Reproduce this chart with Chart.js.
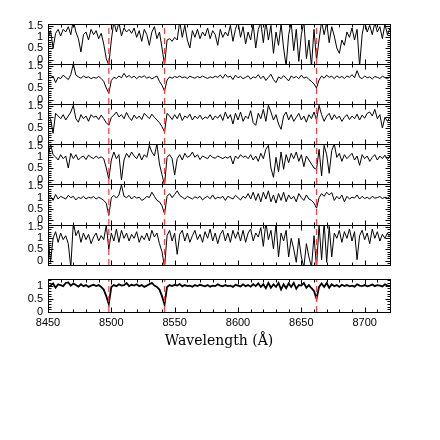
<!DOCTYPE html>
<html>
<head>
<meta charset="utf-8">
<script src="https://cdn.jsdelivr.net/npm/chart.js@4.4.1/dist/chart.umd.min.js"></script>
<style>
  html, body { margin: 0; padding: 0; background: #fff; }
  #wrap { position: relative; width: 440px; height: 440px; overflow: hidden; }
  #wrap canvas { position: absolute; left: 0; }
</style>
</head>
<body>
<div id="wrap"></div>
<script>
// wavelength grid (Angstrom)
const WAVE = [
  8450,8452,8454,8456,8458,8460,8462,8464,8466,8468,
  8470,8472,8474,8476,8478,8480,8482,8484,8486,8488,
  8490,8492,8494,8496,8498,8500,8502,8504,8506,8508,
  8510,8512,8514,8516,8518,8520,8522,8524,8526,8528,
  8530,8532,8534,8536,8538,8540,8542,8544,8546,8548,
  8550,8552,8554,8556,8558,8560,8562,8564,8566,8568,
  8570,8572,8574,8576,8578,8580,8582,8584,8586,8588,
  8590,8592,8594,8596,8598,8600,8602,8604,8606,8608,
  8610,8612,8614,8616,8618,8620,8622,8624,8626,8628,
  8630,8632,8634,8636,8638,8640,8642,8644,8646,8648,
  8650,8652,8654,8656,8658,8660,8662,8664,8666,8668,
  8670,8672,8674,8676,8678,8680,8682,8684,8686,8688,
  8690,8692,8694,8696,8698,8700,8702,8704,8706,8708,
  8710,8712,8714,8716,8718,8720
];

// normalised flux, one spectrum per panel (top to bottom)
const SPEC_1 = [
  1.0,1.3,0.52,1.18,1.36,1.06,1.36,1.24,1.48,1.12,
  1.78,1.24,0.94,0.34,1.12,1.24,0.88,1.36,1.12,1.3,
  0.94,1.18,0.7,0.04,-0.25,0.88,1.72,1.24,1.66,1.06,
  1.42,1.24,1.36,1.18,1.42,1.0,1.3,0.82,1.36,1.12,
  0.64,1.24,1.48,0.94,1.24,0.52,-0.25,0.88,0.94,0.82,
  1.0,0.88,1.72,1.0,1.54,0.88,0.52,1.3,1.0,1.36,
  0.94,1.24,1.06,1.42,0.94,1.3,1.12,0.64,1.36,1.0,
  1.24,1.06,1.54,0.82,1.36,1.72,1.0,1.48,0.7,1.24,
  0.88,1.6,0.52,1.36,1.66,0.76,1.72,0.88,1.54,0.28,
  1.24,0.64,1.6,0.52,-0.3,1.12,1.66,0.4,1.36,-0.08,
  1.12,1.72,0.04,0.88,-0.3,1.36,-0.02,0.88,1.72,1.12,
  1.66,0.76,1.48,1.06,0.52,0.28,0.88,0.64,1.24,1.0,
  1.42,0.88,1.36,-0.3,1.12,1.72,1.24,1.54,1.12,1.66,
  1.24,1.48,0.94,1.6,1.12,1.42
];
const SPEC_2 = [
  1.0,0.98,1.06,0.76,1.0,0.94,1.1,1.0,0.9,1.12,
  1.6,1.1,1.02,0.96,1.06,0.99,1.02,0.94,1.0,0.96,
  1.04,0.95,0.82,0.52,0.28,0.86,1.0,0.95,1.06,0.98,
  1.18,1.0,1.08,0.98,1.05,0.94,1.04,1.0,1.07,0.96,
  1.02,0.93,1.0,1.06,0.82,0.64,0.38,0.88,1.02,0.96,
  1.04,0.99,1.06,0.98,1.02,0.95,1.05,1.0,0.96,1.04,
  0.98,1.06,1.0,0.95,1.02,0.98,1.05,1.0,1.1,0.96,
  1.14,1.0,1.06,0.9,1.1,0.98,1.04,0.94,1.0,1.07,
  0.92,1.02,0.98,1.12,0.94,1.06,0.86,1.0,1.14,0.9,
  0.76,1.02,0.94,1.08,0.96,0.84,1.06,0.98,1.04,0.94,
  1.1,0.96,1.02,0.9,0.82,0.7,0.52,0.88,1.06,0.96,
  1.1,1.0,1.05,0.94,1.07,0.98,1.04,0.95,1.06,1.0,
  1.12,0.98,1.3,1.0,0.94,1.06,0.98,1.02,0.93,1.04,
  1.0,0.95,1.05,0.99,0.94,1.02
];
const SPEC_3 = [
  1.0,0.94,0.28,1.18,1.06,0.94,1.12,0.88,1.06,1.24,
  1.54,0.94,0.78,1.12,0.94,1.06,0.82,1.12,1.0,1.06,
  0.9,1.1,0.94,0.76,0.64,1.0,1.1,1.24,1.02,1.12,
  0.94,1.22,1.0,0.86,1.1,0.94,1.06,0.9,1.18,1.06,
  0.94,1.14,1.0,0.88,0.76,0.58,0.34,1.18,1.06,0.9,
  1.12,0.94,1.18,0.86,1.06,0.98,1.14,0.88,1.06,0.94,
  1.1,0.9,1.02,0.95,1.12,0.88,1.06,0.96,1.12,0.86,
  1.24,0.94,1.12,0.7,1.18,0.88,1.24,0.82,1.06,0.94,
  1.3,0.76,0.64,1.18,0.94,1.36,0.82,1.54,1.24,0.88,
  1.12,0.7,0.46,1.06,1.24,0.88,1.12,0.82,1.0,1.18,
  0.88,1.06,0.78,1.12,0.94,1.24,0.88,1.54,1.12,0.82,
  1.06,1.18,0.88,1.12,0.94,1.06,0.82,1.0,1.12,0.9,
  1.06,0.94,1.14,0.88,1.1,0.96,1.18,1.24,1.06,1.36,
  0.94,1.12,0.52,1.0,0.82,1.02
];
const SPEC_4 = [
  0.94,1.6,1.12,1.02,0.88,1.12,0.94,1.06,0.52,1.18,
  0.94,1.12,0.88,1.0,1.06,0.9,1.1,1.0,0.94,1.06,
  0.96,1.02,0.94,0.52,0.02,0.88,1.24,0.94,1.12,-0.02,
  0.88,1.18,1.0,1.24,1.06,0.94,1.18,0.88,1.12,1.0,
  1.54,1.24,1.06,1.6,0.7,0.22,-0.25,1.0,1.12,0.94,
  0.2,0.94,1.12,0.88,1.18,1.0,1.06,1.24,1.0,1.12,
  0.9,1.06,1.0,0.94,1.1,1.0,0.96,1.06,1.0,0.94,
  1.02,0.96,1.06,0.7,1.06,0.94,1.12,1.0,1.06,0.94,
  1.12,0.88,1.06,0.82,1.18,0.94,1.36,1.54,0.52,0.1,
  1.0,0.34,1.24,0.46,1.12,0.76,1.18,0.94,1.24,0.82,
  1.12,0.58,1.06,0.88,0.7,0.52,0.46,1.36,0.16,1.54,
  1.12,0.28,1.3,1.6,1.0,1.18,0.82,1.12,0.94,1.06,
  1.18,0.88,1.06,0.64,1.12,0.94,1.06,0.82,1.0,1.12,
  0.88,1.06,0.94,1.1,0.9,1.06
];
const SPEC_5 = [
  0.98,1.06,0.88,1.14,0.94,1.06,1.0,0.94,1.1,1.0,
  1.06,0.9,1.02,0.96,1.06,0.94,1.02,0.98,1.05,0.94,
  1.02,0.96,0.88,0.76,0.22,1.0,1.1,0.98,1.12,1.56,
  1.06,1.0,1.1,0.94,1.06,0.98,1.02,0.88,0.94,1.06,
  1.0,1.24,1.06,0.88,0.82,0.64,0.29,1.06,1.18,1.0,
  1.14,1.3,1.1,1.02,0.94,1.06,1.0,0.94,1.04,0.98,
  1.06,0.9,1.0,1.06,0.95,1.12,0.94,1.02,0.98,1.06,
  0.88,1.06,1.0,0.94,1.1,1.0,0.9,1.06,0.98,1.18,
  0.94,1.24,0.88,1.18,0.82,1.24,0.94,1.3,0.82,1.12,
  0.76,1.18,0.88,1.24,0.82,1.12,0.94,1.06,0.82,1.18,
  1.0,0.88,1.12,0.94,0.88,0.76,0.54,1.0,1.18,1.06,
  1.24,1.12,1.22,0.88,1.06,0.94,1.12,0.82,1.06,0.94,
  1.02,0.98,1.12,0.94,1.06,0.96,1.02,0.94,1.06,0.98,
  1.0,1.05,0.96,1.02,0.98,1.06
];
const SPEC_6 = [
  1.06,-0.08,1.0,1.3,0.82,1.24,0.94,1.12,0.76,-0.3,
  1.72,1.12,1.36,0.82,1.24,0.94,1.18,0.76,1.06,1.24,
  0.88,1.12,0.94,1.6,0.52,1.24,0.88,1.42,0.82,1.36,
  1.0,1.24,0.88,1.18,1.0,1.3,0.82,1.12,0.94,1.24,
  0.88,1.36,1.06,1.24,0.76,0.4,-0.3,1.12,1.36,0.88,
  1.24,0.28,1.18,1.36,0.88,1.24,0.82,1.12,1.36,0.94,
  1.18,0.82,1.3,1.0,1.42,0.88,1.24,0.76,1.18,1.36,
  0.88,1.24,0.82,1.36,1.0,1.3,0.88,1.36,0.82,1.24,
  1.42,0.88,1.24,1.06,1.48,0.64,1.72,0.94,1.36,0.52,
  1.66,0.16,1.24,0.88,1.36,0.16,1.0,0.52,-0.08,1.0,
  0.16,-0.3,0.76,0.16,-0.3,1.12,-0.3,1.6,0.04,1.72,
  -0.08,1.54,0.16,1.24,1.0,1.36,0.82,1.3,1.0,1.42,
  0.88,1.3,0.04,1.12,1.36,0.94,1.24,0.76,1.42,1.0,
  1.3,0.88,1.18,1.0,1.24,1.06
];
const SPEC_7 = [
  0.95,1.0,1.08,0.92,1.05,1.02,0.98,1.1,1.12,1.0,
  1.08,1.02,0.96,1.05,0.98,1.02,0.95,1.0,1.03,0.98,
  1.02,0.95,0.85,0.6,0.3,0.95,1.02,0.98,1.05,1.0,
  1.02,1.1,0.98,1.03,1.0,1.05,0.98,1.02,0.95,1.0,
  1.05,1.1,1.0,0.95,0.85,0.6,0.28,0.95,1.02,0.98,
  1.03,1.0,1.06,0.97,1.02,0.98,1.0,0.96,1.02,0.98,
  1.03,1.0,0.97,1.02,0.96,1.0,0.98,1.05,1.0,0.97,
  1.02,0.98,1.0,0.95,1.03,1.0,0.97,1.05,0.98,1.02,
  0.96,1.05,0.98,1.08,0.95,1.05,0.9,1.1,0.92,1.05,
  0.95,1.1,0.85,1.05,0.9,1.08,0.95,1.1,0.88,1.02,
  1.0,1.1,0.92,1.02,0.9,0.8,0.5,0.95,1.08,0.95,
  1.1,0.92,1.05,0.98,1.02,0.95,1.03,0.98,1.02,0.97,
  1.0,0.96,1.05,1.0,0.98,1.02,0.97,1.0,1.04,0.98,
  1.02,1.0,0.97,1.05,1.0,0.98
];

// Ca II triplet positions, marked in every panel
const CAT_LINES = [8498, 8542, 8662];
const X_TICKS = [8450, 8500, 8550, 8600, 8650, 8700];
const Y_TICKS = [0, 0.5, 1, 1.5];
const Y_TICKS_LAST = [0, 0.5, 1];
const X_TITLE = 'Wavelength (Å)';

// panel geometry in page pixels
const PANELS = [
  { spec: SPEC_1, top: 24,  h: 40, ymin: -0.2, ymax: 1.6,  yticks: Y_TICKS },
  { spec: SPEC_2, top: 64,  h: 40, ymin: -0.2, ymax: 1.6,  yticks: Y_TICKS },
  { spec: SPEC_3, top: 104, h: 40, ymin: -0.2, ymax: 1.6,  yticks: Y_TICKS },
  { spec: SPEC_4, top: 144, h: 40, ymin: -0.2, ymax: 1.6,  yticks: Y_TICKS },
  { spec: SPEC_5, top: 184, h: 41, ymin: -0.2, ymax: 1.6,  yticks: Y_TICKS },
  { spec: SPEC_6, top: 225, h: 40, ymin: -0.2, ymax: 1.6,  yticks: Y_TICKS },
  { spec: SPEC_7, top: 279, h: 33, ymin: 0,    ymax: 1.25, yticks: Y_TICKS_LAST, last: true, lw: 1.8 },
];

const PAD = 8, AXIS_H = 46, LEFT = 48, RIGHT_PAD = 50;
const TICK_FONT = { family: "'Liberation Sans', Arial, sans-serif", size: 11 };

// box + inward ticks on all four sides (pgplot style)
const framePlugin = {
  id: 'frame',
  afterDatasetsDraw(chart) {
    const { ctx, chartArea: a, scales: { x, y } } = chart;
    const L = Math.round(a.left) + 0.5, R = Math.round(a.right) + 0.5;
    const T = Math.round(a.top) + 0.5, B = Math.round(a.bottom) + 0.5;
    ctx.save();
    ctx.strokeStyle = '#000';
    ctx.lineWidth = 1;
    ctx.beginPath();
    for (let w = 8450; w <= 8720; w += 10) {
      const px = Math.round(x.getPixelForValue(w)) + 0.5;
      const len = (w - 8450) % 50 === 0 ? 5 : 3;
      ctx.moveTo(px, T); ctx.lineTo(px, T + len);
      ctx.moveTo(px, B); ctx.lineTo(px, B - len);
    }
    const k0 = Math.ceil(y.min * 10 - 1e-6), k1 = Math.floor(y.max * 10 + 1e-6);
    for (let k = k0; k <= k1; k++) {
      const py = Math.round(y.getPixelForValue(k / 10)) + 0.5;
      const len = k % 5 === 0 ? 5 : 3;
      ctx.moveTo(L, py); ctx.lineTo(L + len, py);
      ctx.moveTo(R, py); ctx.lineTo(R - len, py);
    }
    ctx.stroke();
    ctx.strokeRect(L, T, R - L, B - T);
    ctx.restore();
  }
};

const wrap = document.getElementById('wrap');

PANELS.forEach(p => {
  const canvas = document.createElement('canvas');
  const ch = p.h + PAD + (p.last ? AXIS_H : PAD);
  canvas.width = 440;
  canvas.height = ch;
  canvas.style.width = '440px';
  canvas.style.height = ch + 'px';
  canvas.style.top = (p.top - PAD) + 'px';
  wrap.appendChild(canvas);

  const spectrum = {
    data: WAVE.map((w, k) => ({ x: w, y: p.spec[k] })),
    borderColor: '#000',
    borderWidth: p.lw || 1,
    pointRadius: 0,
    tension: 0,
    clip: 0,
    order: 1,
  };
  const markers = CAT_LINES.map(w => ({
    data: [{ x: w, y: p.ymin }, { x: w, y: p.ymax }],
    borderColor: '#ff3b3b',
    borderWidth: 1.2,
    borderDash: [6, 4],
    pointRadius: 0,
    clip: 0,
    order: 0,
  }));

  const xScale = {
    type: 'linear',
    min: 8450, max: 8720,
    display: !!p.last,
  };
  if (p.last) {
    Object.assign(xScale, {
      afterBuildTicks: s => { s.ticks = X_TICKS.map(v => ({ value: v })); },
      afterFit: s => { s.height = AXIS_H; s.paddingLeft = 0; s.paddingRight = 0; },
      grid: { display: false, drawTicks: false },
      border: { display: false },
      ticks: { color: '#000', font: TICK_FONT, padding: 4, maxRotation: 0, autoSkip: false, callback: v => String(v) },
      title: {
        display: true, text: X_TITLE, color: '#000',
        font: { family: "'DejaVu Serif', serif", size: 14 },
        padding: { top: 0, bottom: 8 },
      },
    });
  }

  new Chart(canvas, {
    type: 'line',
    data: { datasets: [spectrum, ...markers] },
    options: {
      responsive: false,
      animation: false,
      devicePixelRatio: 1,
      layout: { padding: { top: PAD, bottom: p.last ? 0 : PAD, left: 0, right: RIGHT_PAD } },
      plugins: { legend: { display: false }, tooltip: { enabled: false } },
      scales: {
        x: xScale,
        y: {
          type: 'linear',
          min: p.ymin, max: p.ymax,
          afterBuildTicks: s => { s.ticks = p.yticks.map(v => ({ value: v })); },
          // fixed gutter, and let labels overhang the panel edges
          afterFit: s => { s.width = LEFT; s.paddingTop = 0; s.paddingBottom = 0; },
          grid: { display: false, drawTicks: false },
          border: { display: false },
          ticks: { color: '#000', font: TICK_FONT, padding: 5, autoSkip: false, callback: v => String(v) },
        },
      },
    },
    plugins: [framePlugin],
  });
});
</script>
</body>
</html>
